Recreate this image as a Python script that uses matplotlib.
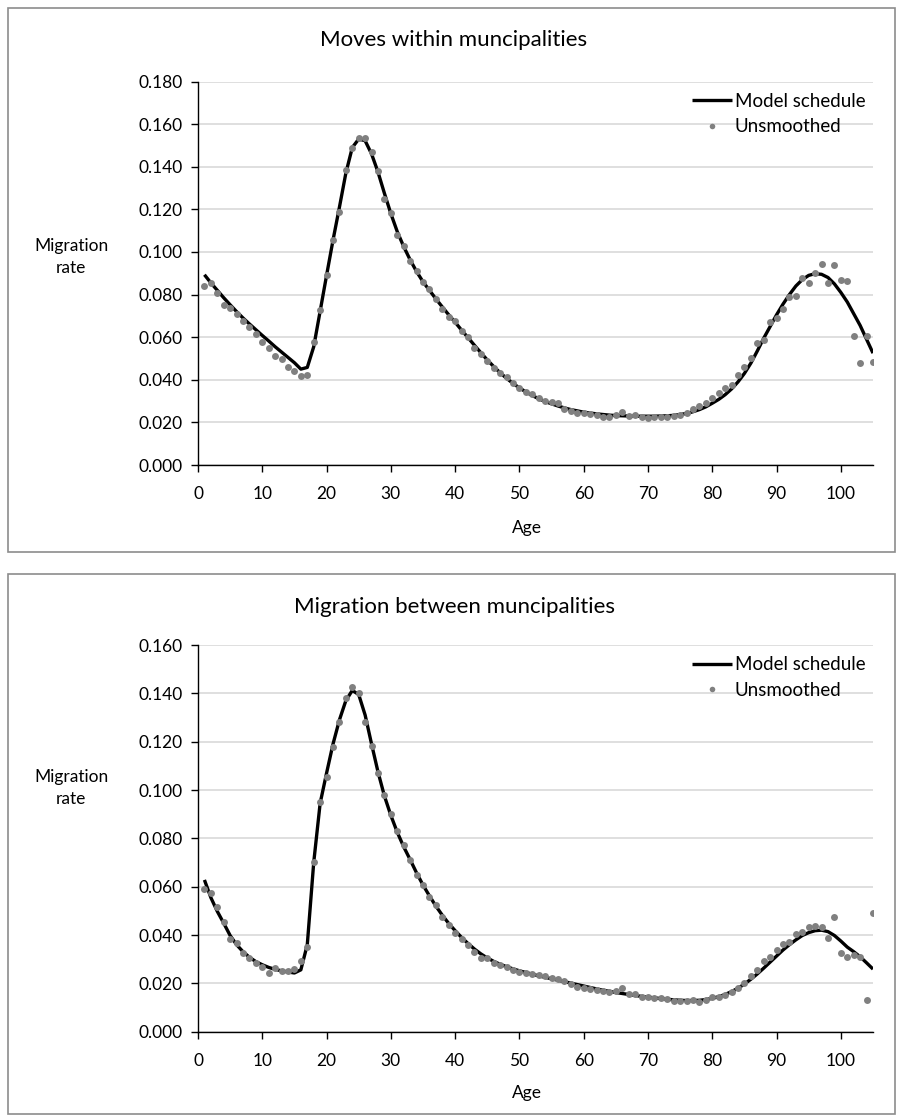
import matplotlib
matplotlib.use("Agg")
import matplotlib.pyplot as plt
from matplotlib.patches import Rectangle
from matplotlib.ticker import FuncFormatter

plt.rcParams['font.family'] = ['Lato', 'DejaVu Sans']

ages = list(range(1, 106))

within_unsmoothed = [
    0.0839, 0.0855, 0.0805, 0.0753, 0.0738, 0.0707, 0.0678, 0.0648, 0.0617, 0.0579,
    0.0551, 0.0511, 0.0499, 0.0458, 0.0439, 0.0418, 0.0421, 0.0575, 0.0728, 0.0890,
    0.1056, 0.1188, 0.1383, 0.1488, 0.1533, 0.1533, 0.1471, 0.1378, 0.1250, 0.1185,
    0.1080, 0.1028, 0.0957, 0.0911, 0.0861, 0.0826, 0.0779, 0.0733, 0.0697, 0.0674,
    0.0630, 0.0599, 0.0550, 0.0521, 0.0490, 0.0456, 0.0432, 0.0414, 0.0383, 0.0362,
    0.0343, 0.0331, 0.0316, 0.0300, 0.0294, 0.0290, 0.0264, 0.0252, 0.0245, 0.0244,
    0.0241, 0.0236, 0.0225, 0.0225, 0.0233, 0.0248, 0.0228, 0.0235, 0.0225, 0.0222,
    0.0225, 0.0225, 0.0225, 0.0228, 0.0236, 0.0246, 0.0262, 0.0276, 0.0291, 0.0315,
    0.0338, 0.0361, 0.0377, 0.0424, 0.0458, 0.0502, 0.0572, 0.0587, 0.0670, 0.0689,
    0.0731, 0.0790, 0.0795, 0.0876, 0.0852, 0.0902, 0.0943, 0.0852, 0.0938, 0.0868,
    0.0863, 0.0606, 0.0478, 0.0606, 0.0483]

within_model = [
    0.0893, 0.0855, 0.0820, 0.0785, 0.0752, 0.0720, 0.0690, 0.0662, 0.0635, 0.0608,
    0.0582, 0.0555, 0.0530, 0.0505, 0.0480, 0.0450, 0.0458, 0.0555, 0.0722, 0.0890,
    0.1055, 0.1210, 0.1370, 0.1490, 0.1530, 0.1522, 0.1460, 0.1375, 0.1275, 0.1180,
    0.1095, 0.1025, 0.0963, 0.0908, 0.0860, 0.0820, 0.0780, 0.0742, 0.0705, 0.0670,
    0.0633, 0.0598, 0.0562, 0.0527, 0.0493, 0.0462, 0.0433, 0.0407, 0.0383, 0.0362,
    0.0343, 0.0326, 0.0311, 0.0298, 0.0287, 0.0277, 0.0268, 0.0260, 0.0254, 0.0248,
    0.0244, 0.0240, 0.0237, 0.0234, 0.0232, 0.0231, 0.0230, 0.0229, 0.0229, 0.0229,
    0.0229, 0.0230, 0.0231, 0.0233, 0.0237, 0.0242, 0.0250, 0.0260, 0.0273, 0.0290,
    0.0308, 0.0330, 0.0357, 0.0390, 0.0430, 0.0478, 0.0535, 0.0595, 0.0650, 0.0705,
    0.0755, 0.0800, 0.0840, 0.0870, 0.0890, 0.0898, 0.0895, 0.0880, 0.0850, 0.0810,
    0.0765, 0.0710, 0.0655, 0.0590, 0.0525]

between_unsmoothed = [
    0.0590, 0.0573, 0.0515, 0.0454, 0.0382, 0.0366, 0.0324, 0.0304, 0.0286, 0.0266,
    0.0241, 0.0262, 0.0251, 0.0251, 0.0258, 0.0293, 0.0352, 0.0703, 0.0949, 0.1055,
    0.1179, 0.1283, 0.1379, 0.1425, 0.1400, 0.1283, 0.1182, 0.1069, 0.0979, 0.0899,
    0.0830, 0.0771, 0.0712, 0.0649, 0.0608, 0.0556, 0.0525, 0.0473, 0.0443, 0.0407,
    0.0383, 0.0360, 0.0328, 0.0307, 0.0307, 0.0284, 0.0278, 0.0266, 0.0254, 0.0248,
    0.0244, 0.0240, 0.0235, 0.0231, 0.0224, 0.0217, 0.0208, 0.0197, 0.0186, 0.0181,
    0.0176, 0.0172, 0.0167, 0.0163, 0.0170, 0.0181, 0.0158, 0.0156, 0.0144, 0.0142,
    0.0139, 0.0139, 0.0135, 0.0128, 0.0125, 0.0125, 0.0133, 0.0124, 0.0131, 0.0145,
    0.0142, 0.0152, 0.0166, 0.0182, 0.0203, 0.0230, 0.0255, 0.0294, 0.0308, 0.0338,
    0.0363, 0.0372, 0.0404, 0.0414, 0.0434, 0.0437, 0.0434, 0.0389, 0.0473, 0.0327,
    0.0310, 0.0317, 0.0308, 0.0131, 0.0490]

between_model = [
    0.0628, 0.0555, 0.0498, 0.0449, 0.0398, 0.0360, 0.0331, 0.0308, 0.0290, 0.0277,
    0.0266, 0.0258, 0.0252, 0.0247, 0.0243, 0.0256, 0.0360, 0.0700, 0.0945, 0.1070,
    0.1190, 0.1290, 0.1370, 0.1412, 0.1395, 0.1310, 0.1190, 0.1075, 0.0975, 0.0895,
    0.0825, 0.0765, 0.0712, 0.0657, 0.0607, 0.0562, 0.0520, 0.0482, 0.0448, 0.0418,
    0.0390, 0.0365, 0.0342, 0.0322, 0.0305, 0.0291, 0.0279, 0.0269, 0.0260, 0.0252,
    0.0245, 0.0238, 0.0231, 0.0225, 0.0219, 0.0213, 0.0207, 0.0201, 0.0195, 0.0189,
    0.0183, 0.0177, 0.0172, 0.0167, 0.0162, 0.0158, 0.0154, 0.0150, 0.0146, 0.0143,
    0.0140, 0.0137, 0.0134, 0.0132, 0.0130, 0.0129, 0.0129, 0.0130, 0.0133, 0.0138,
    0.0145, 0.0154, 0.0166, 0.0180, 0.0197, 0.0217, 0.0239, 0.0263, 0.0288, 0.0313,
    0.0338, 0.0360, 0.0380, 0.0398, 0.0410, 0.0418, 0.0420, 0.0414, 0.0398, 0.0375,
    0.0350, 0.0331, 0.0310, 0.0285, 0.0259]

titles = ["Moves within muncipalities", "Migration between muncipalities"]
ymaxes = [0.18, 0.16]
x_ticks = [0, 10, 20, 30, 40, 50, 60, 70, 80, 90, 100]

W, H = 899, 1115
fig = plt.figure(figsize=(W / 100, H / 100), dpi=100)


def fx(px):
    return px / W


def fy(py):
    return 1 - py / H


# chart boxes
for (top, bottom) in [(8, 552), (574, 1114)]:
    fig.patches.append(Rectangle((fx(8), fy(bottom)), fx(895) - fx(8), fy(top) - fy(bottom),
                                 transform=fig.transFigure, fill=False,
                                 edgecolor='#8c8c8c', linewidth=1.2))

specs = [
    dict(y0=465, y1=81.5, title_y=40, ylab_y=257, xlab_y=528,
         unsm=within_unsmoothed, model=within_model, ymax=ymaxes[0], title=titles[0]),
    dict(y0=1031.7, y1=645, title_y=607, ylab_y=788, xlab_y=1093,
         unsm=between_unsmoothed, model=between_model, ymax=ymaxes[1], title=titles[1]),
]

for s in specs:
    ax = fig.add_axes([fx(198), fy(s['y0']), fx(873) - fx(198), fy(s['y1']) - fy(s['y0'])])
    ax.set_xlim(0, 105)
    ax.set_ylim(0, s['ymax'])
    ax.plot(ages, s['model'], color='black', linewidth=2.4, zorder=3, label='Model schedule',
            solid_capstyle='butt')
    ax.plot(ages, s['unsm'], linestyle='none', marker='o', markersize=5.0,
            color='#808080', markeredgewidth=0, zorder=4, label='Unsmoothed')
    ax.set_xticks(x_ticks)
    n = int(round(s['ymax'] / 0.02))
    ax.set_yticks([0.02 * i for i in range(n + 1)])
    ax.yaxis.set_major_formatter(FuncFormatter(lambda v, p: f"{v:.3f}"))
    ax.grid(axis='y', color='#d9d9d9', linewidth=1.2, zorder=0)
    ax.set_axisbelow(True)
    for sp in ['top', 'right']:
        ax.spines[sp].set_visible(False)
    for sp in ['left', 'bottom']:
        ax.spines[sp].set_color('black')
        ax.spines[sp].set_linewidth(1.0)
    ax.tick_params(axis='both', direction='out', length=5, width=1.0, colors='black',
                   labelsize=12.5, labelcolor='black')
    ax.tick_params(axis='y', pad=6)
    ax.tick_params(axis='x', pad=10)
    ax.legend(loc='upper right', bbox_to_anchor=(1.0, 0.99), frameon=False,
              fontsize=13.5, handlelength=2.15, handletextpad=0.15,
              labelspacing=0.45, borderaxespad=0.0, markerscale=0.8)
    fig.text(fx(454), fy(s['title_y']), s['title'], ha='center', va='center', fontsize=16)
    fig.text(fx(71), fy(s['ylab_y']), "Migration\nrate", ha='center', va='center',
             fontsize=12.5, linespacing=1.45)
    fig.text(fx(527), fy(s['xlab_y']), "Age", ha='center', va='center', fontsize=12.5)

fig.savefig("out.png", dpi=100)
